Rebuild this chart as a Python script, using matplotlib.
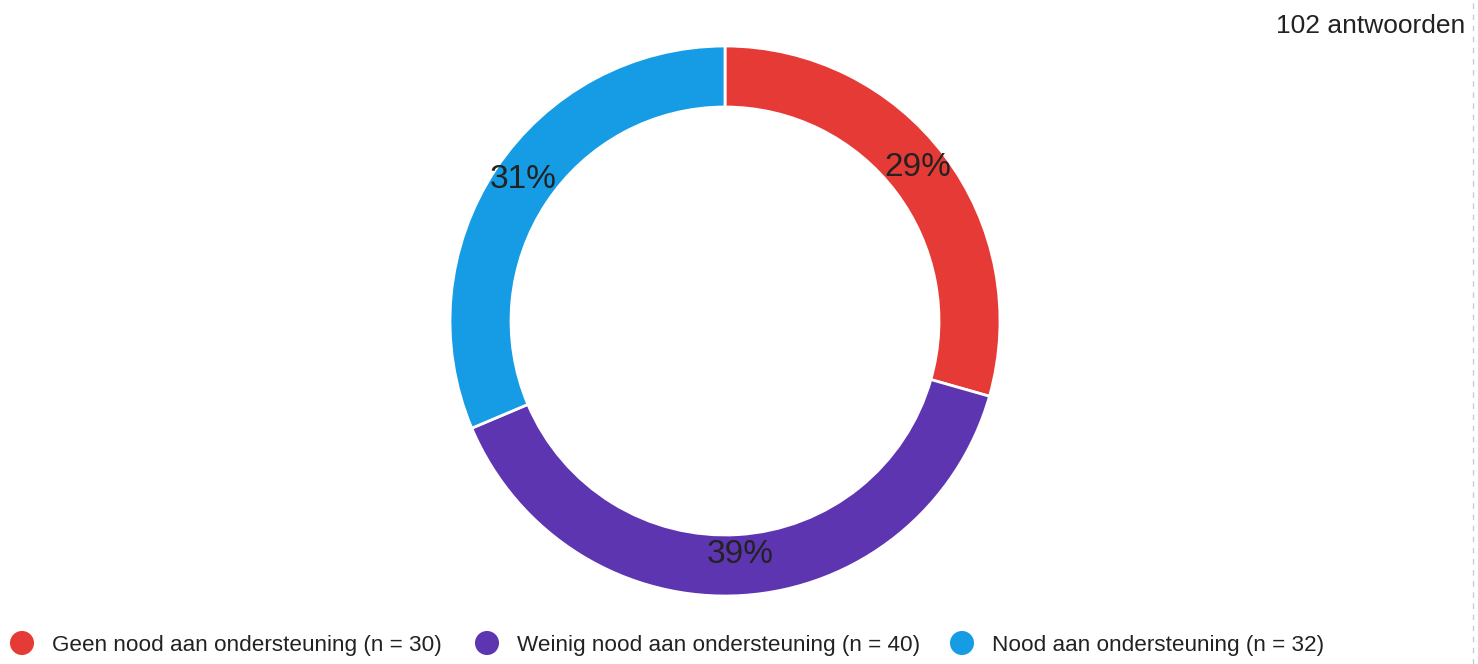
import matplotlib
matplotlib.use("Agg")
import matplotlib.pyplot as plt

# ── Data ─────────────────────────────────────────────────────────────────────
labels = ["Geen nood aan ondersteuning", "Weinig nood aan ondersteuning",
          "Nood aan ondersteuning"]
counts = [30, 40, 32]
colors = ["#E53A35", "#5E35B1", "#169CE4"]
total_label = "102 antwoorden"

plt.rcParams["font.family"] = ["Liberation Sans", "DejaVu Sans"]
TEXT = "#222222"

W, H = 1478, 664
fig = plt.figure(figsize=(W / 100, H / 100), dpi=100)
ax = fig.add_axes([0, 0, 1, 1])
ax.set_xlim(0, W)
ax.set_ylim(0, H)
ax.set_aspect("equal")
ax.axis("off")

wedges, texts, autotexts = ax.pie(
    counts, colors=colors, center=(725, H - 321), radius=275,
    startangle=90, counterclock=False,
    wedgeprops=dict(width=61, edgecolor="white", linewidth=2),
    autopct=lambda p: f"{p:.0f}%", pctdistance=0.88,
    textprops=dict(fontsize=24, color=TEXT),
)
# percentage labels sit slightly higher in the original
for t in autotexts:
    x, y = t.get_position()
    t.set_position((x, y + 8))
ax.set_xlim(0, W)
ax.set_ylim(0, H)

# total responses (top right)
ax.text(1465, H - 26, total_label, ha="right", va="center",
        fontsize=19, color=TEXT)

# dashed separator on the right edge
ax.plot([1473, 1473], [0, H], color="#cccccc", linestyle=(0, (4, 4)),
        linewidth=1)

# legend row at the bottom
marker_x = [22, 487, 962]
ly = H - 643
for mx, lab, n, c in zip(marker_x, labels, counts, colors):
    ax.scatter([mx], [ly], s=300, color=c, edgecolors="none")
    ax.text(mx + 30, ly - 2, f"{lab} (n = {n})", ha="left", va="center",
            fontsize=16.2, color=TEXT)

fig.savefig("out.png", dpi=100, facecolor="white")
